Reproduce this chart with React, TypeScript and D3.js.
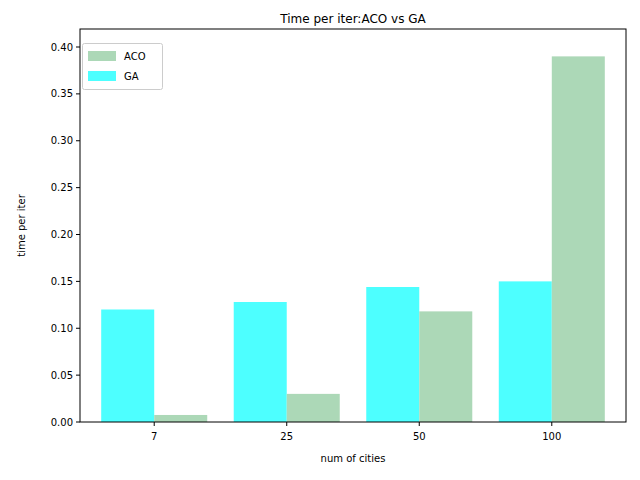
import * as d3 from 'd3';

const cities = ['7', '25', '50', '100'];
const gaValues = [0.12, 0.128, 0.144, 0.15];
const acoValues = [0.0075, 0.03, 0.118, 0.39];
const yTicks = [0, 0.05, 0.1, 0.15, 0.2, 0.25, 0.3, 0.35, 0.4];

const W = 640, H = 480;
const left = 80, right = 626, top = 29, bottom = 422;
const font = 'DejaVu Sans, sans-serif';

export default function App() {
	const x = d3.scaleLinear().domain([-0.56, 3.56]).range([left, right]);
	const y = d3.scaleLinear().domain([0, 0.4192]).range([bottom, top]);
	const bw = x(0.4) - x(0);
	return (
		<svg width={W} height={H} style={{ position: 'absolute', left: 0, top: 0 }} fontFamily={font}>
			<rect width={W} height={H} fill="#fff" />
			{cities.map((c, i) => (
				<g key={c}>
					<rect x={x(i) - bw} width={bw} y={y(gaValues[i])} height={bottom - y(gaValues[i])} fill="#4dffff" />
					<rect x={x(i)} width={bw} y={y(acoValues[i])} height={bottom - y(acoValues[i])} fill="#acd8b7" />
					<line x1={x(i)} x2={x(i)} y1={bottom} y2={bottom + 4} stroke="#000" />
					<text x={x(i)} y={bottom + 18} fontSize={10} textAnchor="middle">{c}</text>
				</g>
			))}
			{yTicks.map((t) => (
				<g key={t}>
					<line x1={left - 4} x2={left} y1={y(t)} y2={y(t)} stroke="#000" />
					<text x={left - 7} y={y(t) + 3.5} fontSize={10} textAnchor="end">{t.toFixed(2)}</text>
				</g>
			))}
			<rect x={left} y={top} width={right - left} height={bottom - top} fill="none" stroke="#000" strokeWidth={1} />
			<text x={(left + right) / 2} y={462} fontSize={10} textAnchor="middle">num of cities</text>
			<text transform={`translate(25,${(top + bottom) / 2}) rotate(-90)`} fontSize={10} textAnchor="middle">time per iter</text>
			<text x={(left + right) / 2} y={23} fontSize={12} textAnchor="middle">Time per iter:ACO vs GA</text>
			<rect x={82.5} y={43.5} width={80} height={46} rx={2} fill="#fff" stroke="#ccc" />
			<rect x={88} y={51} width={28} height={10} fill="#acd8b7" />
			<text x={124} y={60} fontSize={10}>ACO</text>
			<rect x={88} y={71} width={28} height={10} fill="#4dffff" />
			<text x={124} y={80} fontSize={10}>GA</text>
		</svg>
	);
}
